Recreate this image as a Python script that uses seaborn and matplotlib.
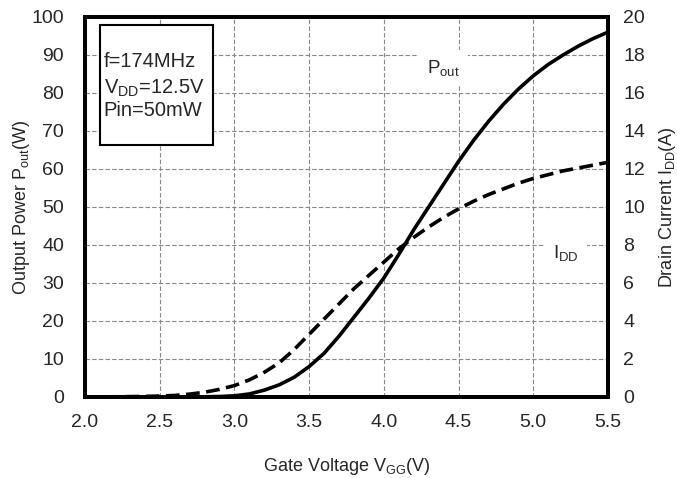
import matplotlib
matplotlib.use("Agg")
import matplotlib.pyplot as plt
import seaborn as sns
import pandas as pd
from matplotlib.patches import Rectangle

# values
vgg = [2.0, 2.1, 2.2, 2.3, 2.4, 2.5, 2.6, 2.7, 2.8, 2.9, 3.0, 3.1, 3.2, 3.3, 3.4, 3.5,
       3.6, 3.7, 3.8, 3.9, 4.0, 4.1, 4.2, 4.3, 4.4, 4.5, 4.6, 4.7, 4.8, 4.9, 5.0,
       5.1, 5.2, 5.3, 5.4, 5.5]
pout = [0.0, 0.0, 0.0, 0.0, 0.0, 0.0, 0.0, 0.02, 0.05, 0.12, 0.3, 0.8, 1.8, 3.2, 5.2, 8.0,
        11.5, 16.0, 21.0, 26.0, 31.3, 37.5, 44.0, 50.0, 56.0, 62.0, 67.5, 72.5, 77.0, 81.0, 84.5,
        87.5, 90.0, 92.3, 94.3, 96.0]
idd = [0.0, 0.01, 0.01, 0.02, 0.03, 0.05, 0.08, 0.15, 0.25, 0.4, 0.6, 0.9, 1.3, 1.8, 2.5, 3.3,
       4.1, 4.9, 5.7, 6.4, 7.1, 7.8, 8.4, 8.95, 9.45, 9.9, 10.3, 10.65, 10.95, 11.25, 11.5,
       11.7, 11.9, 12.05, 12.2, 12.35]

df = pd.DataFrame({"vgg": vgg, "pout": pout, "idd": idd})

sns.set_style("white")
plt.rcParams['font.family'] = ['Liberation Sans', 'DejaVu Sans']
plt.rcParams['mathtext.fontset'] = 'custom'
plt.rcParams['mathtext.rm'] = 'Liberation Sans'
plt.rcParams['mathtext.it'] = 'Liberation Sans'

fs = 13

fig = plt.figure(figsize=(6.77, 4.78), dpi=100)
ax = fig.add_axes([0.1256, 0.1695, 0.7724, 0.795])
ax2 = ax.twinx()

sns.lineplot(data=df, x="vgg", y="pout", ax=ax, color="black", lw=2.6)
sns.lineplot(data=df, x="vgg", y="idd", ax=ax2, color="black", lw=2.6,
             linestyle=(0, (3.8, 1.8)))

ax.set_xlim(2.0, 5.5)
ax.set_ylim(0, 100)
ax2.set_ylim(0, 20)
ax.set_xticks([2.0, 2.5, 3.0, 3.5, 4.0, 4.5, 5.0, 5.5])
ax.set_xticklabels(["2.0", "2.5", "3.0", "3.5", "4.0", "4.5", "5.0", "5.5"])
ax.set_yticks(range(0, 101, 10))
ax2.set_yticks(range(0, 21, 2))

ax.grid(True, color="#888888", linestyle=(0, (4, 2)), lw=0.8)
ax.set_axisbelow(True)
ax2.grid(False)

for a in (ax, ax2):
    a.tick_params(length=0, labelsize=14)
    for s in a.spines.values():
        s.set_linewidth(2.8)
        s.set_color("black")
ax.tick_params(axis="y", pad=15)
ax.tick_params(axis="x", pad=12)
ax2.tick_params(axis="y", pad=11)

ax.set_xlabel(r"Gate Voltage V$_{\mathrm{GG}}$(V)", fontsize=fs, va="center")
ax.set_ylabel(r"Output Power P$_{\mathrm{out}}$(W)", fontsize=fs, va="center")
ax2.set_ylabel(r"Drain Current I$_{\mathrm{DD}}$(A)", fontsize=fs, va="center")
ax.xaxis.set_label_coords(0.5, -0.184)
ax.yaxis.set_label_coords(-0.122, 0.5)
ax2.yaxis.set_label_coords(1.113, 0.5)

# info box
ax.add_patch(Rectangle((0.029, 0.663), 0.216, 0.316, transform=ax.transAxes,
                       facecolor="white", edgecolor="black", lw=1.5, zorder=5))
ax.text(0.036, 0.882, "f=174MHz", transform=ax.transAxes, fontsize=14.5, zorder=6, va="center")
ax.text(0.036, 0.813, r"V$_{\mathrm{DD}}$=12.5V", transform=ax.transAxes, fontsize=14.5, zorder=6, va="center")
ax.text(0.036, 0.753, "Pin=50mW", transform=ax.transAxes, fontsize=14.5, zorder=6, va="center")

ax.text(4.29, 85.3, r"P$_{\mathrm{out}}$", fontsize=13.5, ha="left", va="baseline",
        bbox=dict(facecolor="white", edgecolor="none", pad=6), zorder=6)
ax.text(5.13, 36.6, r"I$_{\mathrm{DD}}$", fontsize=13.5, ha="left", va="baseline",
        bbox=dict(facecolor="white", edgecolor="none", pad=6), zorder=6)

fig.savefig("out.png", dpi=100)
